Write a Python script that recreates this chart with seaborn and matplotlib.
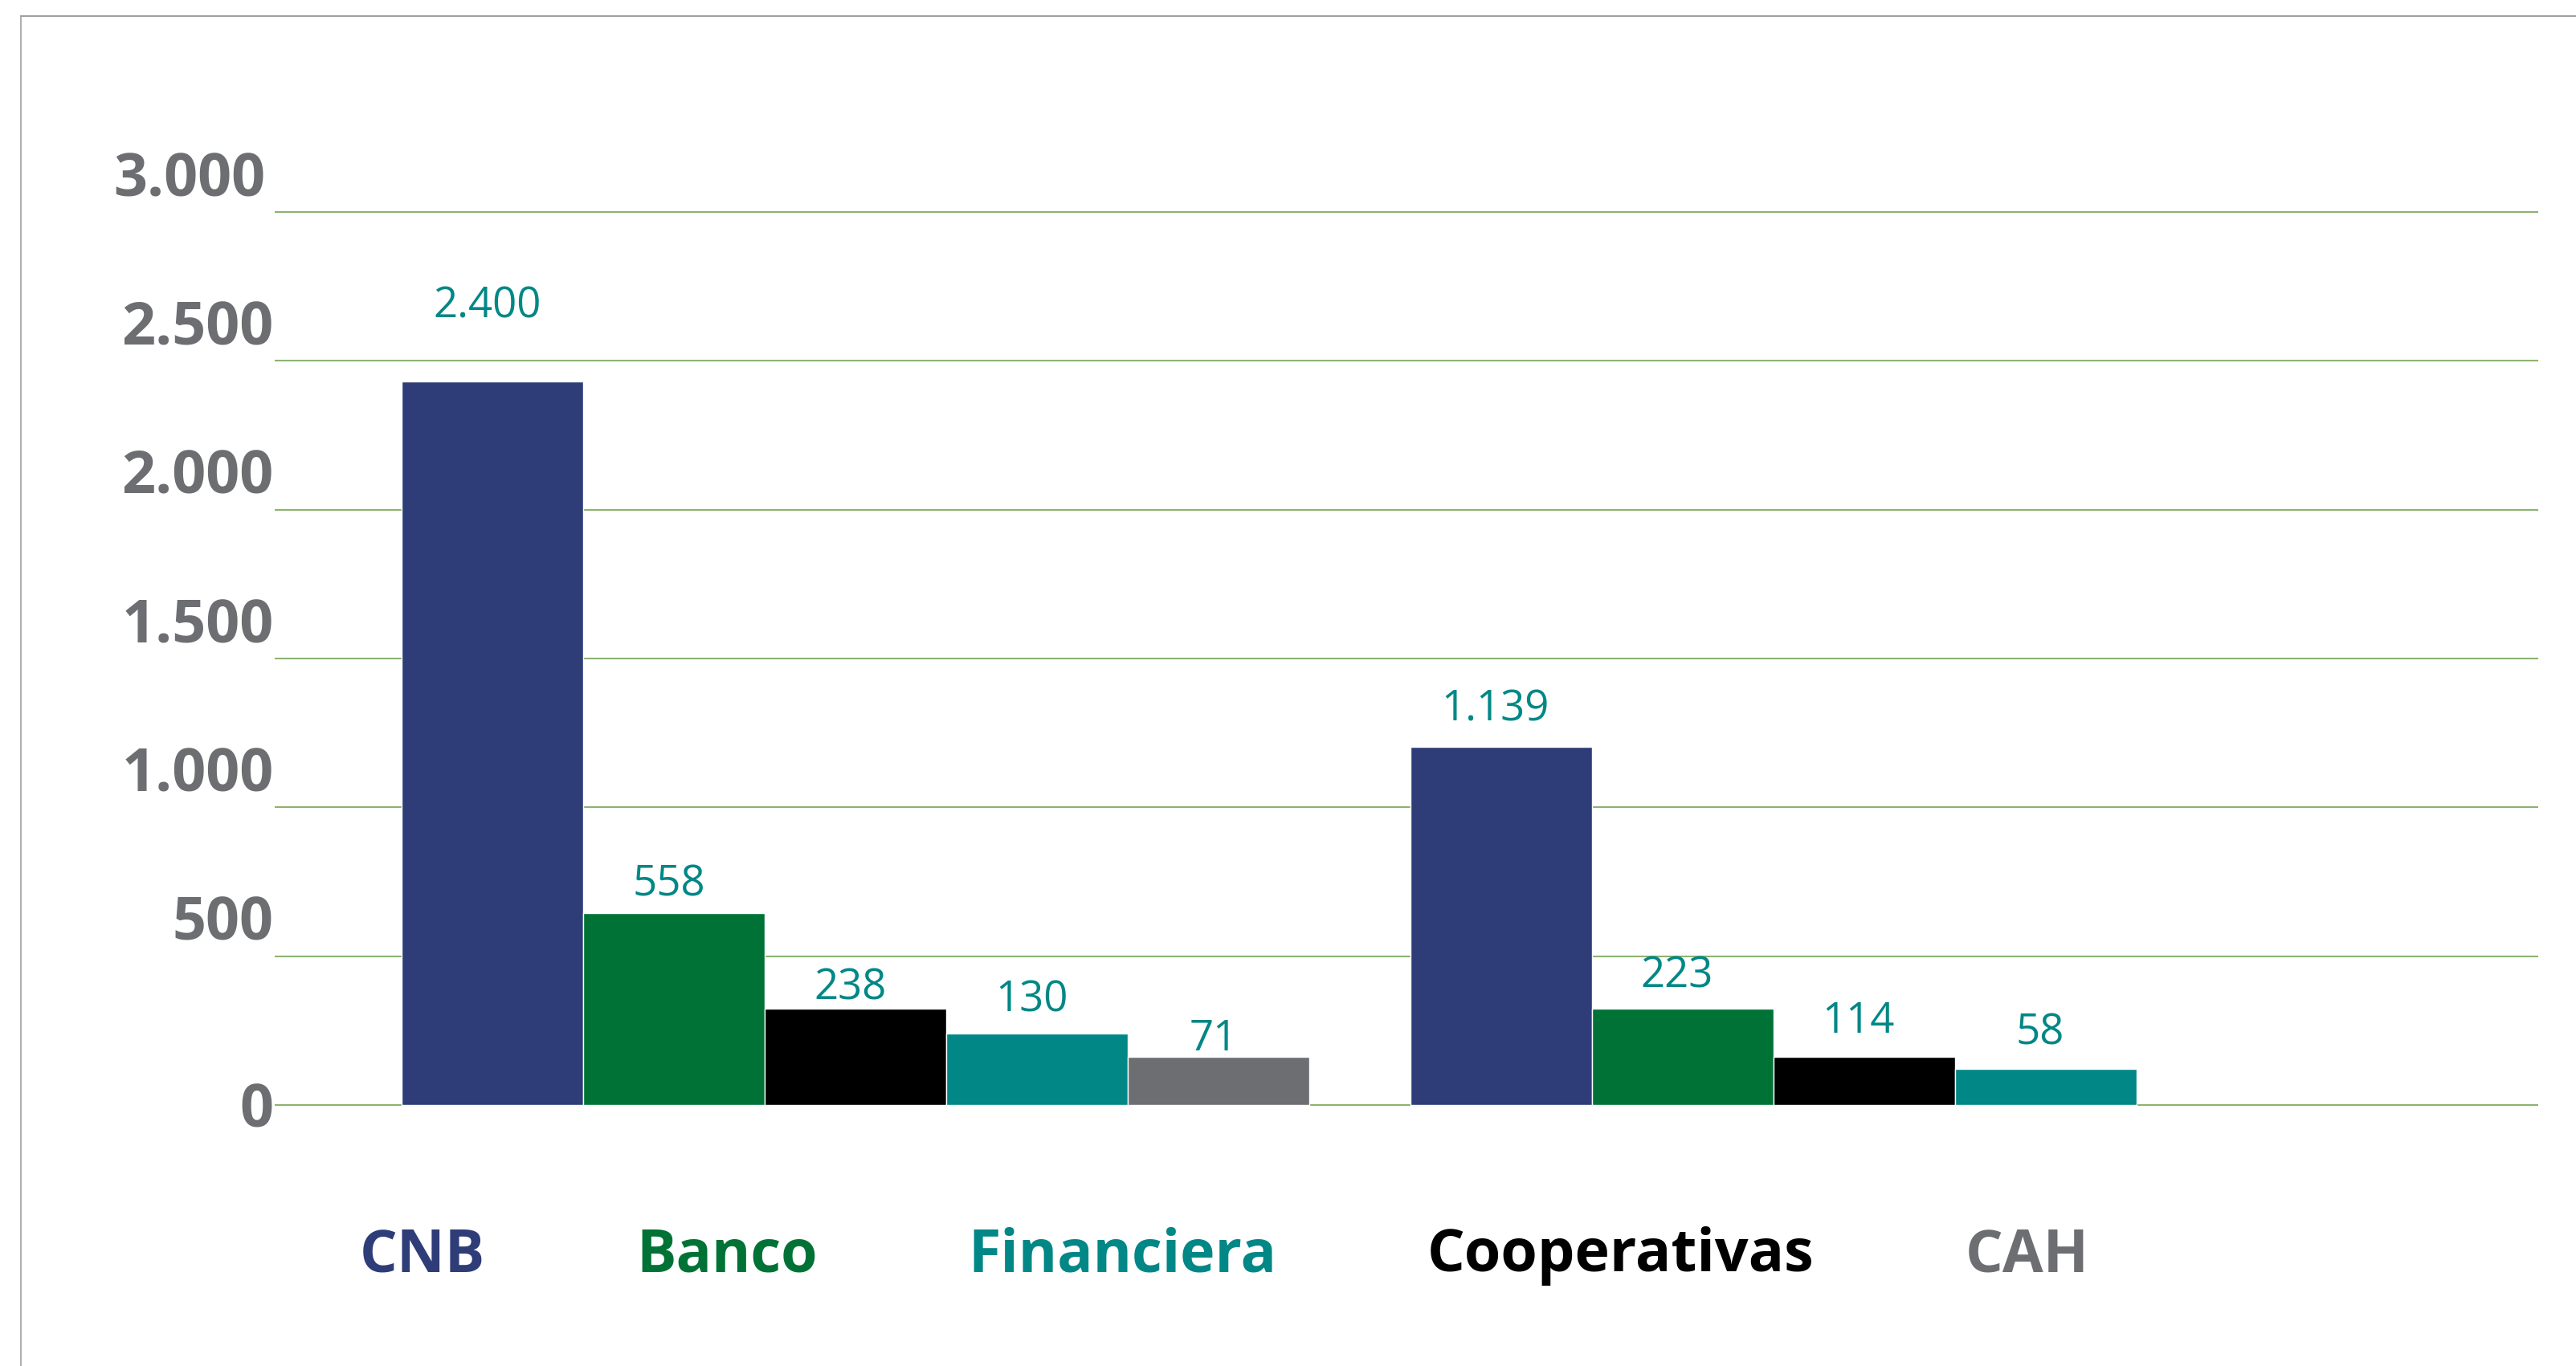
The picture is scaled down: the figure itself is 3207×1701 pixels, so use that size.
import pandas as pd
import matplotlib
matplotlib.use("Agg")
import matplotlib.pyplot as plt
import matplotlib.transforms as mtransforms
from matplotlib.lines import Line2D
import seaborn as sns

# %%
# chart data
groups = ["Grupo 1", "Grupo 2"]
hue_order = ["CNB", "Banco", "Cooperativas", "Financiera", "CAH"]
legend_order = ["CNB", "Banco", "Financiera", "Cooperativas", "CAH"]
colors = {"CNB": "#2E3D77", "Banco": "#007236", "Cooperativas": "#000000",
          "Financiera": "#008786", "CAH": "#6D6E71"}

g1_heights = [2432, 646, 324, 240, 162]
g2_heights = [1202, 324, 163, 121]
g1_labels = ["2.400", "558", "238", "130", "71"]
g2_labels = ["1.139", "223", "114", "58"]
yticks = [0, 500, 1000, 1500, 2000, 2500, 3000]

# %%
rows = []
for tipo, h, lab in zip(hue_order, g1_heights, g1_labels):
    rows.append((groups[0], tipo, h, lab))
for tipo, h, lab in zip(hue_order, g2_heights, g2_labels):
    rows.append((groups[1], tipo, h, lab))
df = pd.DataFrame(rows, columns=["grupo", "tipo", "valor", "etiqueta"])

# %%
sns.set_style("white")
plt.rcParams["font.family"] = ["Open Sans", "DejaVu Sans"]

fig = plt.figure(figsize=(32.07, 17.01), dpi=100)
ax = fig.add_axes([0.1066, 0.18998, 0.8787, 0.6559])

sns.barplot(data=df, x="grupo", y="valor", hue="tipo", order=groups,
            hue_order=hue_order, palette=colors, width=0.9, saturation=1,
            edgecolor="white", linewidth=1, errorbar=None, ax=ax)

ax.set_xlim(-0.5763, 1.6683)
ax.set_ylim(-5, 3005)
ax.set_xticks([])
ax.set_xlabel("")
ax.set_ylabel("")
ax.set_yticks(yticks)
ax.set_yticklabels([f"{v:,}".replace(",", ".") for v in yticks],
                   fontsize=53, fontweight="bold", color="#6D6E71")
ax.tick_params(axis="y", length=0, pad=1)
for lbl, v in zip(ax.get_yticklabels(), yticks):
    if v:
        dx = -0.1 if v == 3000 else 0
        lbl.set_transform(lbl.get_transform() +
                          mtransforms.ScaledTranslation(dx, 0.48, fig.dpi_scale_trans))
ax.yaxis.grid(True, color="#8DB370", linewidth=1.5)
ax.set_axisbelow(True)
sns.despine(ax=ax, left=True, bottom=True)

# value labels (hand placed above each bar in the original)
pads = {groups[0]: [57, 15, 8, 20, 6], groups[1]: [24, 19, 21, 22]}
for cont, tipo in zip(ax.containers, hue_order):
    k = hue_order.index(tipo)
    for bar in cont:
        gi = int(round(bar.get_x() + bar.get_width() / 2))
        g = groups[gi]
        lab = df[(df.grupo == g) & (df.tipo == tipo)]["etiqueta"].iloc[0]
        ax.annotate(lab, (bar.get_x() + bar.get_width() / 2, bar.get_height()),
                    xytext=(-5, pads[g][k]), textcoords="offset points",
                    ha="center", va="baseline", fontsize=38, color="#008786")

# legend as coloured words
handles, labels = ax.get_legend_handles_labels()
hmap = dict(zip(labels, handles))
leg = ax.legend([hmap[l] for l in legend_order], legend_order,
                loc="center left", bbox_to_anchor=(0.1397, 0.0805),
                bbox_transform=fig.transFigure, ncol=5, frameon=False,
                handlelength=0, handletextpad=0, columnspacing=2.55,
                borderpad=0, borderaxespad=0,
                prop={"family": "Open Sans", "weight": "bold", "size": 53})
for h in leg.legend_handles:
    h.set_visible(False)
for t in leg.get_texts():
    t.set_color(colors[t.get_text()])

# outer frame
fx, fy = 26 / 3207, 1 - 20 / 1701
fig.add_artist(Line2D([fx, fx], [0, fy], transform=fig.transFigure, color="#B0B0B0", lw=1.5))
fig.add_artist(Line2D([fx, 1], [fy, fy], transform=fig.transFigure, color="#A0A0A0", lw=1.5))

fig.savefig("out.png", dpi=100)
